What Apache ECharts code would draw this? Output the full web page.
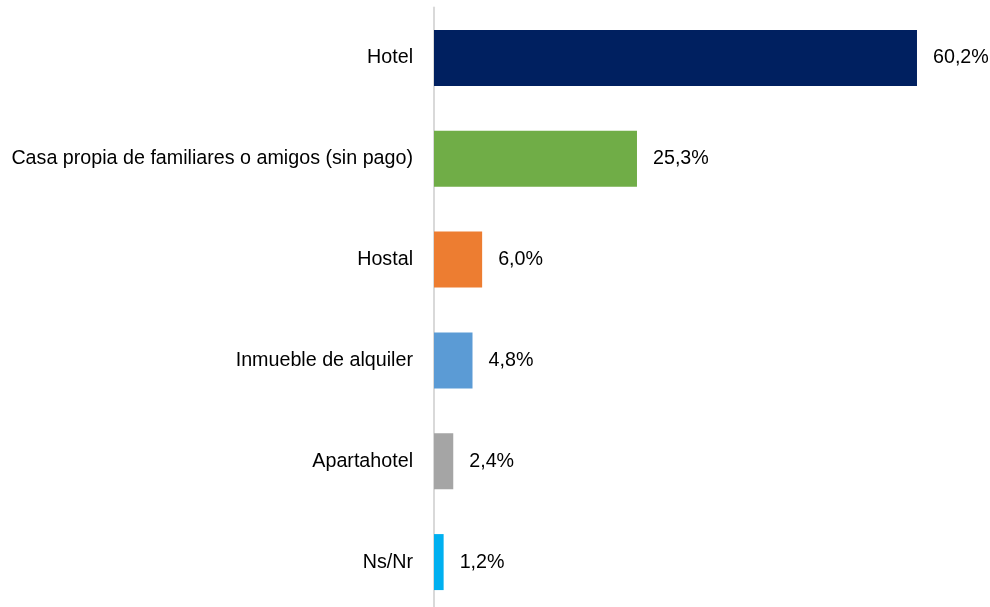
<!DOCTYPE html>
<html>
<head>
<meta charset="utf-8">
<script src="https://cdn.jsdelivr.net/npm/echarts@6/dist/echarts.min.js"></script>
<style>
  html, body { margin: 0; padding: 0; background: #fff; }
  #chart { width: 990px; height: 607px; }
</style>
</head>
<body>
<div id="chart"></div>
<script>
// categories top to bottom
var categories = ['Hotel', 'Casa propia de familiares o amigos (sin pago)', 'Hostal', 'Inmueble de alquiler', 'Apartahotel', 'Ns/Nr'];
var values = [60.2, 25.3, 6.0, 4.8, 2.4, 1.2];
var colors = ['#002060', '#70AD47', '#ED7D31', '#5B9BD5', '#A5A5A5', '#00B0F0'];

var font = 'Liberation Sans';

var chart = echarts.init(document.getElementById('chart'));

chart.setOption({
    backgroundColor: '#ffffff',
    animation: false,
    grid: {
        left: 434,
        width: 521.5,
        top: 7.5,
        height: 605,
        outerBoundsMode: 'none'
    },
    xAxis: {
        type: 'value',
        min: 0,
        max: 65,
        show: false
    },
    yAxis: {
        type: 'category',
        inverse: true,
        data: categories,
        axisLine: { show: true, lineStyle: { color: '#d9d9d9', width: 2 } },
        axisTick: { show: false },
        axisLabel: {
            margin: 21,
            color: '#000',
            fontFamily: font,
            fontSize: 19.7
        }
    },
    series: [{
        type: 'bar',
        barWidth: 56,
        data: values.map(function (v, i) {
            return { value: v, itemStyle: { color: colors[i] } };
        }),
        label: {
            show: true,
            position: 'right',
            distance: 16,
            color: '#000',
            fontFamily: font,
            fontSize: 19.7,
            formatter: function (p) {
                return p.value.toFixed(1).replace('.', ',') + '%';
            }
        }
    }]
});
</script>
</body>
</html>
